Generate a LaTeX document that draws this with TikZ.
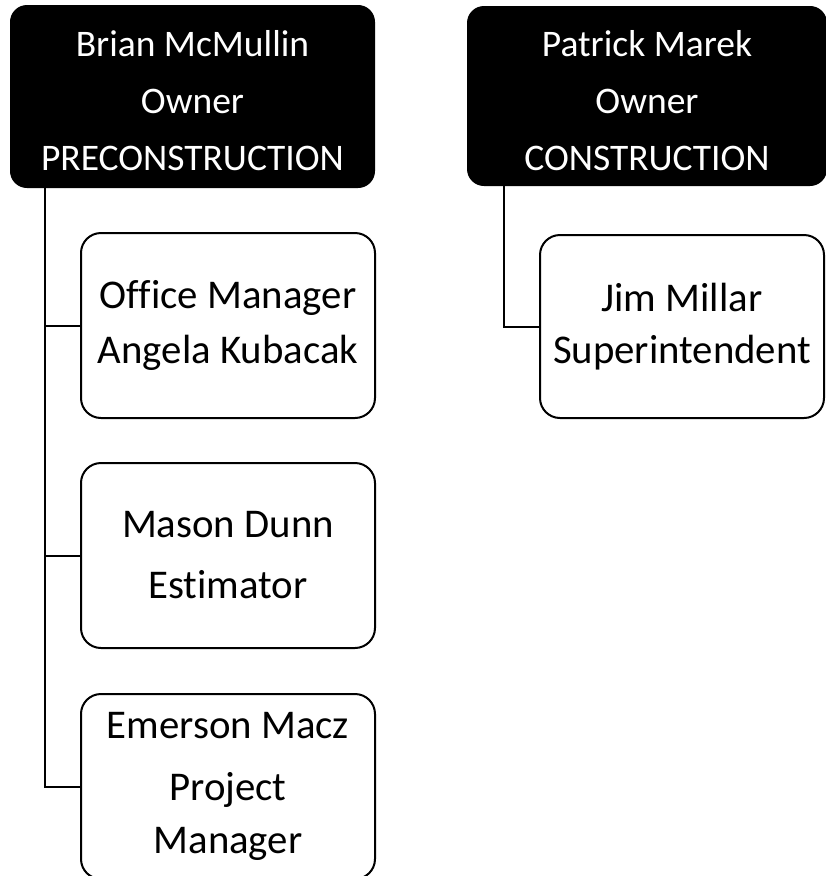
\documentclass[tikz,border=0pt]{standalone}
\usepackage{fontspec}
\setmainfont[Ligatures=NoCommon]{Carlito}
\newcommand{\headstrut}{\rule{0pt}{35pt}}
\begin{document}
\begin{tikzpicture}[x=1pt,y=-1pt,
  headbox/.style={draw=black,fill=black,text=white,line width=2pt,rounded corners=16pt,
    inner sep=0pt,align=center,font=\fontsize{37.5}{57}\selectfont},
  staffbox/.style={draw=black,fill=white,line width=2pt,rounded corners=20pt,
    inner sep=0pt,align=center,font=\fontsize{40.8}{55}\selectfont},
  link/.style={draw=black,line width=2pt}]
\useasboundingbox (0,0) rectangle (826,876);
\node[headbox,minimum width=363pt,minimum height=181pt] (bm) at (192.5,96.5) {\headstrut Brian McMullin\\Owner\\PRECONSTRUCTION};
\node[headbox,minimum width=358pt,minimum height=178pt] (pm) at (647,96) {\headstrut Patrick Marek\\Owner\\CONSTRUCTION};
\node[staffbox,minimum width=294pt,minimum height=185pt] (om) at (228,325.5) {Office Manager\\Angela Kubacak};
\node[staffbox,minimum width=294pt,minimum height=185pt] (md) at (228,555.5) {Mason Dunn\\[6pt]Estimator};
\node[staffbox,minimum width=294pt,minimum height=185pt] (em) at (228,786.5) {Emerson Macz\\[7pt]Project\\[-2pt]Manager};
\node[staffbox,minimum width=284pt,minimum height=183pt] (jm) at (682,326.5) {Jim Millar\\[-3pt]Superintendent};
\coordinate (v1) at (45,187);
\coordinate (v2) at (504,185);
\draw[link] (v1) |- (om.west);
\draw[link] (v1) |- (md.west);
\draw[link] (v1) |- (em.west);
\draw[link] (v2) |- (jm.west);
\end{tikzpicture}
\end{document}
